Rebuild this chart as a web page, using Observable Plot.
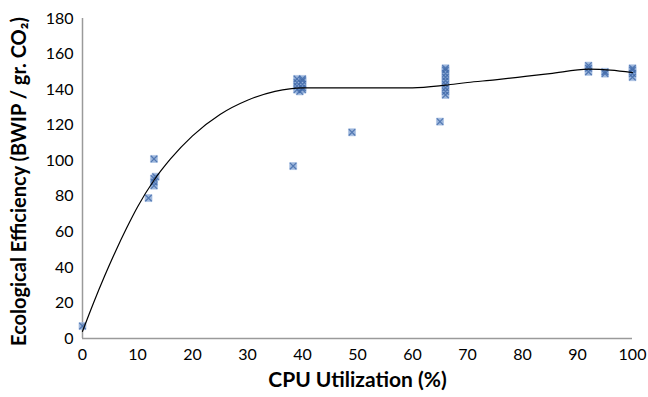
<!DOCTYPE html>
<html>
<head>
<meta charset="utf-8">
<script src="https://cdn.jsdelivr.net/npm/d3@7"></script>
<script src="https://cdn.jsdelivr.net/npm/@observablehq/plot@0.6"></script>
<style>
  html, body { margin: 0; padding: 0; background: #fff; }
  #chart { width: 648px; height: 397px; }
</style>
</head>
<body>
<div id="chart"></div>
<script>
// Measured points
const cpu = [0, 12, 13, 13, 13, 13.3, 13, 38.3, 39, 39, 39, 39, 39.5, 40, 40, 40, 40, 40, 49, 65,
             66, 66, 66, 66, 66, 66, 66, 66, 66, 92, 92, 92, 95, 95, 100, 100, 100, 100];
const eff = [7, 79, 86, 88, 90, 91, 101, 97, 140, 142, 144, 146, 139, 140, 141, 143, 145, 146, 116, 122,
             137, 139, 141, 143, 145, 147, 149, 151, 152, 150, 152, 153.5, 149, 150, 147, 149, 151, 152];
// Trendline
const trendX = [0, 2, 4, 6, 8, 10, 13, 16, 20, 25, 30, 35, 40, 50, 60, 66, 70, 75, 80.5, 85, 92, 96, 100];
const trendY = [4, 20, 35, 49, 62, 74, 89, 101, 114, 126, 134, 139, 141, 141, 141, 142.5, 144, 145.5, 147.4, 149, 151.5, 151, 149.6];
const xTicks = [0, 10, 20, 30, 40, 50, 60, 70, 80, 90, 100];
const yTicks = [0, 20, 40, 60, 80, 100, 120, 140, 160, 180];

const points = cpu.map((x, i) => ({x, y: eff[i]}));
const trend = trendX.map((x, i) => ({x, y: trendY[i]}));

const font = "Lato, 'Open Sans', sans-serif";

const chart = Plot.plot({
  width: 648,
  height: 397,
  marginLeft: 82,
  marginRight: 16,
  marginTop: 18,
  marginBottom: 59,
  style: {fontFamily: font, fontSize: "16px", color: "#000", background: "#fff"},
  x: {domain: [0, 100], ticks: xTicks, label: null},
  y: {domain: [0, 180], ticks: yTicks, label: null},
  marks: [
    Plot.axisX({ticks: xTicks, tickSize: 0, tickPadding: 10, fontSize: 16, fill: "#000"}),
    Plot.axisY({ticks: yTicks, tickSize: 0, tickPadding: 9, fontSize: 16, fill: "#000"}),
    Plot.ruleY([0], {stroke: "#9a9a9a", strokeWidth: 1.5}),
    Plot.ruleX([0], {stroke: "#9a9a9a", strokeWidth: 1.5}),
    Plot.dot(points, {x: "x", y: "y", symbol: "square", r: 4, fill: "#7d9fd0", fillOpacity: 0.75, stroke: "#a9c0e2", strokeWidth: 1, strokeOpacity: 0.6}),
    Plot.dot(points, {x: "x", y: "y", symbol: "times", r: 3, stroke: "#3f68a8", strokeWidth: 1.2, strokeOpacity: 0.8}),
    Plot.line(trend, {x: "x", y: "y", curve: "monotone-x", stroke: "#000", strokeWidth: 1.2}),
    Plot.text(["CPU Utilization (%)"], {frameAnchor: "bottom", dy: 48, fontWeight: "bold", fontSize: 21, fill: "#000"}),
    Plot.text(["Ecological Efficiency (BWIP / gr. CO₂)"], {frameAnchor: "left", dx: -63, dy: 3, rotate: -90, textAnchor: "middle", fontWeight: "bold", fontSize: 20, fill: "#000"})
  ]
});
document.getElementById("chart").appendChild(chart);
</script>
</body>
</html>
